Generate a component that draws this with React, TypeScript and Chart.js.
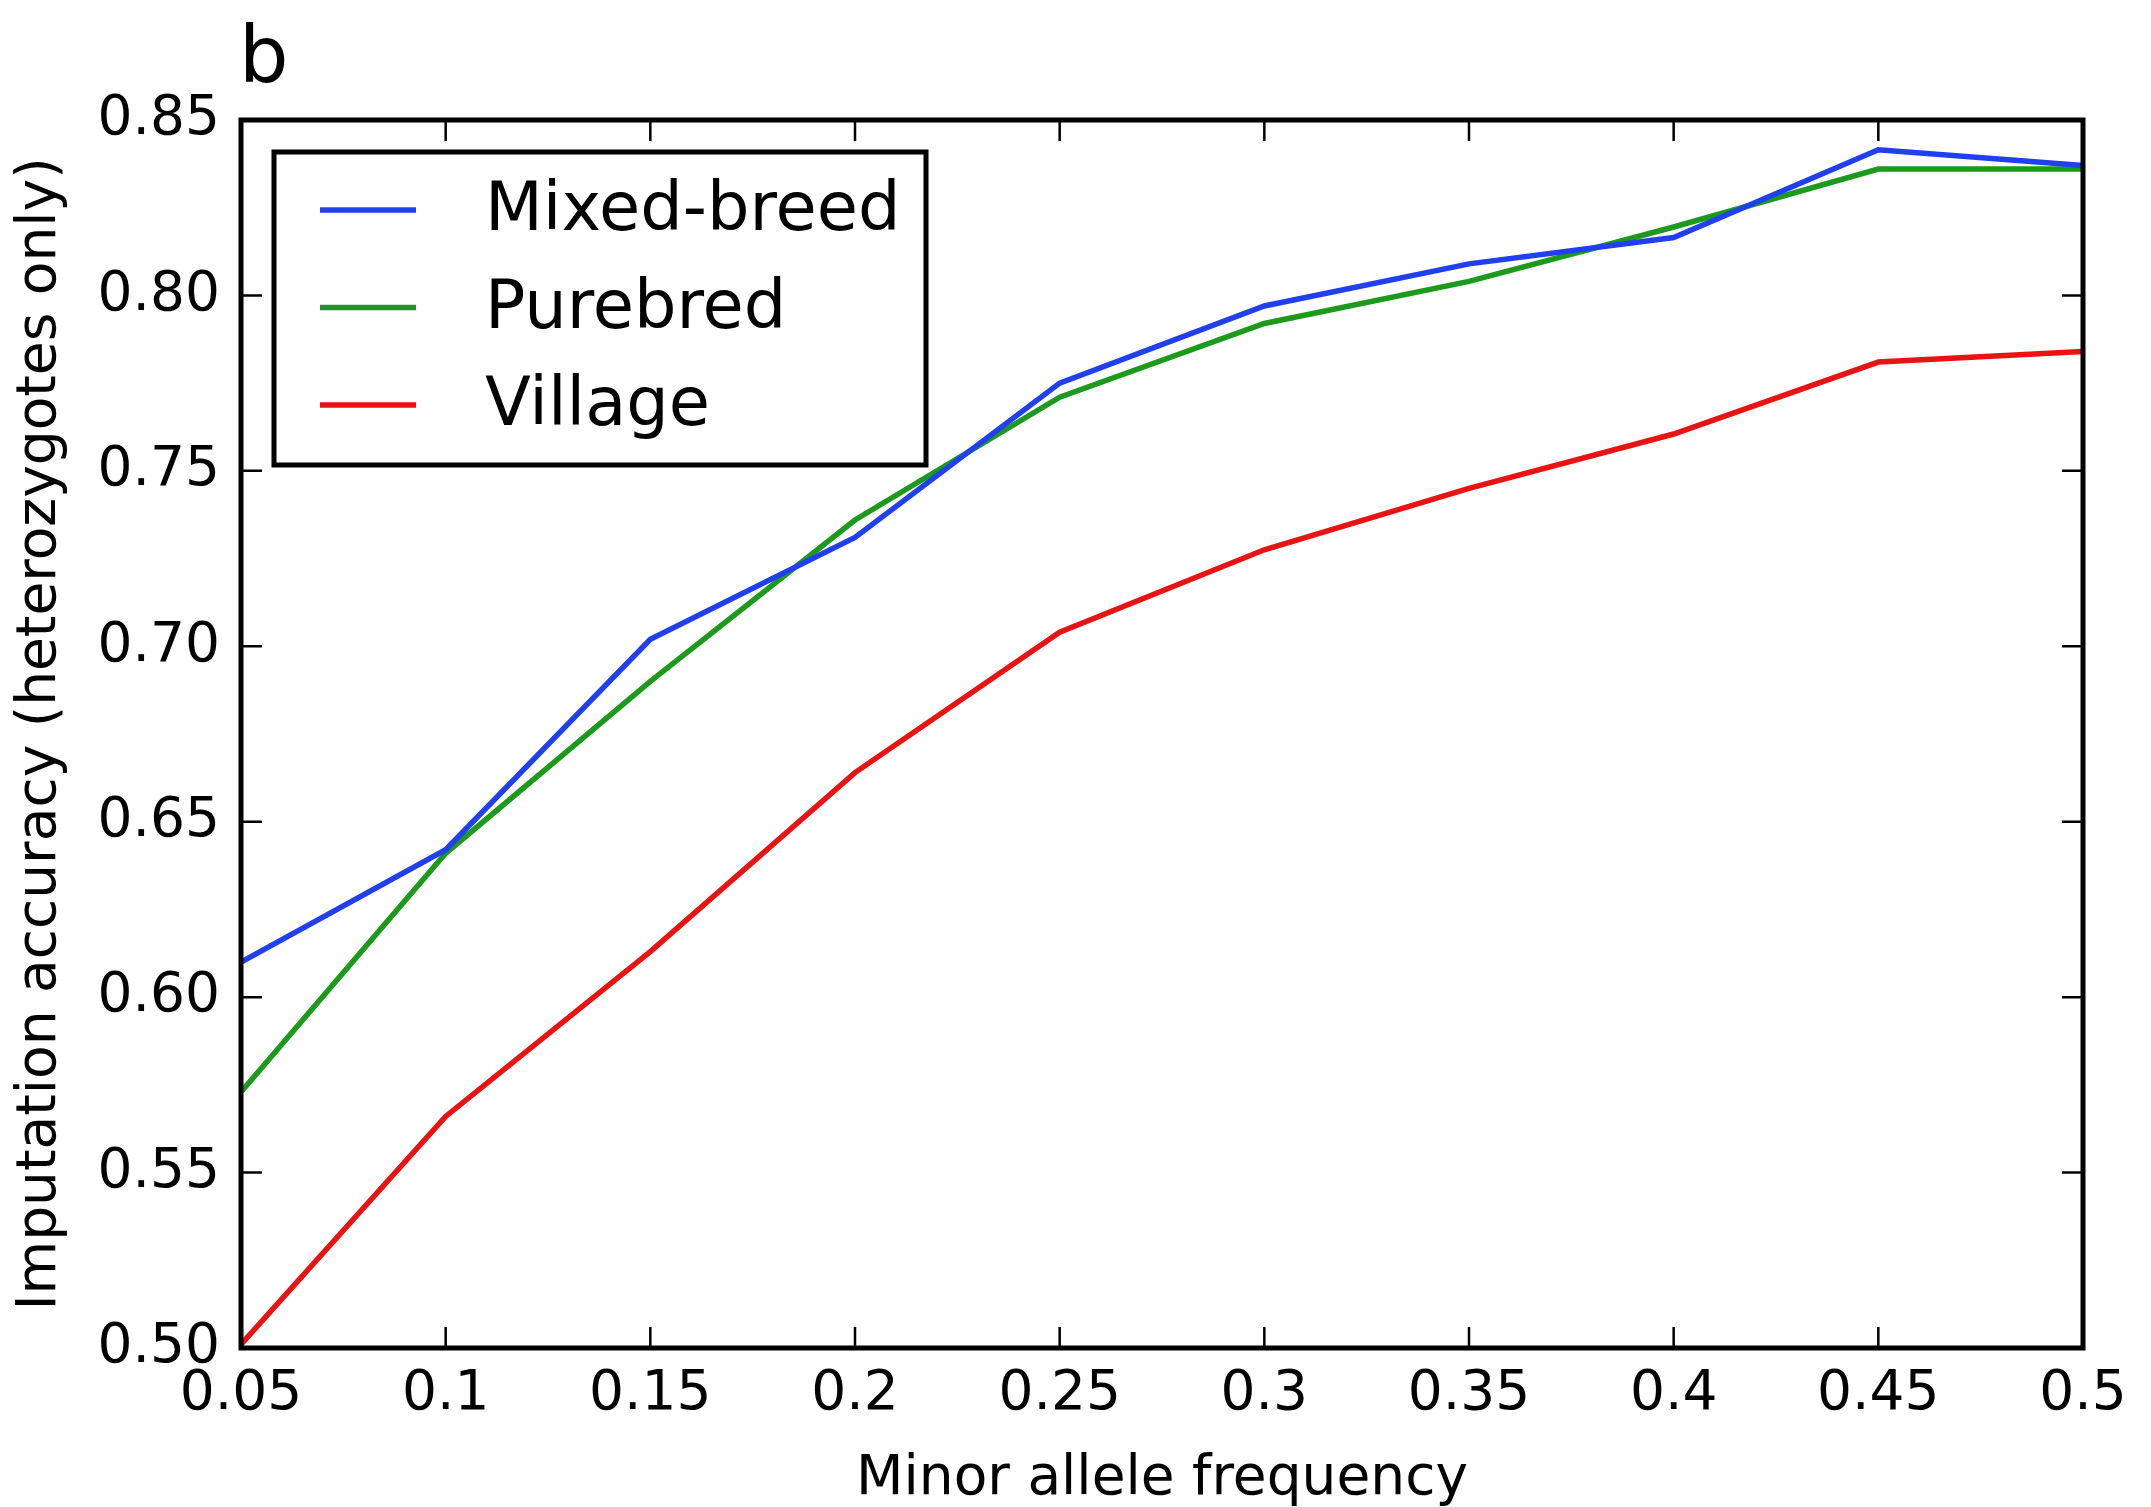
import React, { useEffect, useRef } from "react";
import { Chart, registerables } from "chart.js";

Chart.register(...registerables);

const xValues = [0.05, 0.1, 0.15, 0.2, 0.25, 0.3, 0.35, 0.4, 0.45, 0.5];
const xTickLabels = ["0.05", "0.1", "0.15", "0.2", "0.25", "0.3", "0.35", "0.4", "0.45", "0.5"];
const yTickValues = [0.5, 0.55, 0.6, 0.65, 0.7, 0.75, 0.8, 0.85];
const yTickLabels = ["0.50", "0.55", "0.60", "0.65", "0.70", "0.75", "0.80", "0.85"];

const seriesNames = ["Mixed-breed", "Purebred", "Village"];
const seriesColors = ["#2040ee", "#1c9a1c", "#e81414"];
const mixedBreed = [0.61, 0.642, 0.702, 0.731, 0.775, 0.797, 0.809, 0.8165, 0.8415, 0.837];
const purebred = [0.573, 0.641, 0.69, 0.736, 0.771, 0.792, 0.804, 0.8195, 0.836, 0.836];
const village = [0.501, 0.566, 0.613, 0.664, 0.704, 0.7275, 0.745, 0.7605, 0.781, 0.784];

const panelLabel = "b";
const xTitle = "Minor allele frequency";
const yTitle = "Imputation accuracy (heterozygotes only)";

const FONT = "'DejaVu Sans', 'Liberation Sans', sans-serif";
const W = 2151;
const H = 1507;

const framePlugin = {
  id: "frameTicksLegend",
  afterDatasetsDraw(chart: any) {
    const { ctx, chartArea } = chart;
    const xs = chart.scales.x;
    const ys = chart.scales.y;
    const { left, right, top, bottom } = chartArea;
    ctx.save();
    ctx.strokeStyle = "#000";
    ctx.lineWidth = 2.5;
    const tl = 21;
    xValues.forEach((v) => {
      const px = xs.getPixelForValue(v);
      ctx.beginPath();
      ctx.moveTo(px, bottom);
      ctx.lineTo(px, bottom - tl);
      ctx.moveTo(px, top);
      ctx.lineTo(px, top + tl);
      ctx.stroke();
    });
    yTickValues.forEach((v) => {
      const py = ys.getPixelForValue(v);
      ctx.beginPath();
      ctx.moveTo(left, py);
      ctx.lineTo(left + tl, py);
      ctx.moveTo(right, py);
      ctx.lineTo(right - tl, py);
      ctx.stroke();
    });
    ctx.lineWidth = 5;
    ctx.strokeRect(left, top, right - left, bottom - top);

    // legend
    const lx = left + 33;
    const ly = top + 32;
    const lw = 652;
    const lh = 313;
    ctx.fillStyle = "#fff";
    ctx.fillRect(lx, ly, lw, lh);
    ctx.lineWidth = 5;
    ctx.strokeStyle = "#000";
    ctx.strokeRect(lx, ly, lw, lh);
    ctx.font = `67px ${FONT}`;
    ctx.textBaseline = "middle";
    ctx.textAlign = "left";
    chart.data.datasets.forEach((ds: any, i: number) => {
      const rowY = ly + 58 + i * 97.5;
      ctx.strokeStyle = ds.borderColor;
      ctx.lineWidth = 5.5;
      ctx.beginPath();
      ctx.moveTo(lx + 46, rowY);
      ctx.lineTo(lx + 142, rowY);
      ctx.stroke();
      ctx.fillStyle = "#000";
      ctx.fillText(ds.label, lx + 211, rowY + 3);
    });

    // panel label
    ctx.font = `78px ${FONT}`;
    ctx.textBaseline = "alphabetic";
    ctx.fillStyle = "#000";
    ctx.fillText(panelLabel, left - 2, 82);
    ctx.restore();
  },
};

export default function App() {
  const ref = useRef<HTMLCanvasElement | null>(null);
  useEffect(() => {
    if (!ref.current) return;
    const chart = new Chart(ref.current, {
      type: "line",
      data: {
        datasets: [
          { label: seriesNames[0], data: xValues.map((x, i) => ({ x, y: mixedBreed[i] })), borderColor: seriesColors[0] },
          { label: seriesNames[1], data: xValues.map((x, i) => ({ x, y: purebred[i] })), borderColor: seriesColors[1] },
          { label: seriesNames[2], data: xValues.map((x, i) => ({ x, y: village[i] })), borderColor: seriesColors[2] },
        ].map((d) => ({
          ...d,
          backgroundColor: d.borderColor,
          borderWidth: 5.5,
          pointRadius: 0,
          pointHoverRadius: 0,
          tension: 0,
          fill: false,
        })),
      },
      options: {
        animation: false,
        responsive: false,
        devicePixelRatio: 1,
        events: [],
        layout: { padding: { top: 120, right: 68, left: 0, bottom: 0 } },
        plugins: {
          legend: { display: false },
          tooltip: { enabled: false },
          title: { display: false },
        },
        scales: {
          x: {
            type: "linear",
            min: 0.05,
            max: 0.5,
            grid: { display: false, drawTicks: false },
            border: { display: false },
            afterBuildTicks: (scale: any) => {
              scale.ticks = xValues.map((v) => ({ value: v }));
            },
            afterFit: (scale: any) => {
              scale.height = 159;
            },
            ticks: {
              autoSkip: false,
              maxRotation: 0,
              padding: 14,
              color: "#000",
              font: { family: FONT, size: 55 },
              callback: (_v: any, i: number) => xTickLabels[i],
            },
            title: {
              display: true,
              text: xTitle,
              color: "#000",
              font: { family: FONT, size: 55, lineHeight: 1 },
              padding: { top: 0, bottom: 0 },
            },
          },
          y: {
            type: "linear",
            min: 0.5,
            max: 0.85,
            grid: { display: false, drawTicks: false },
            border: { display: false },
            afterBuildTicks: (scale: any) => {
              scale.ticks = yTickValues.map((v) => ({ value: v }));
            },
            afterFit: (scale: any) => {
              scale.width = 241;
            },
            ticks: {
              autoSkip: false,
              padding: 21,
              color: "#000",
              font: { family: FONT, size: 55 },
              callback: (_v: any, i: number) => yTickLabels[i],
            },
            title: {
              display: true,
              text: yTitle,
              color: "#000",
              font: { family: FONT, size: 55, lineHeight: 1 },
              padding: { top: 13, bottom: 0 },
            },
          },
        },
      },
      plugins: [framePlugin],
    } as any);
    return () => chart.destroy();
  }, []);
  return (
    <div style={{ position: "fixed", left: 0, top: 0, width: W, height: H, background: "#fff" }}>
      <canvas ref={ref} width={W} height={H} style={{ width: W, height: H, display: "block" }} />
    </div>
  );
}
